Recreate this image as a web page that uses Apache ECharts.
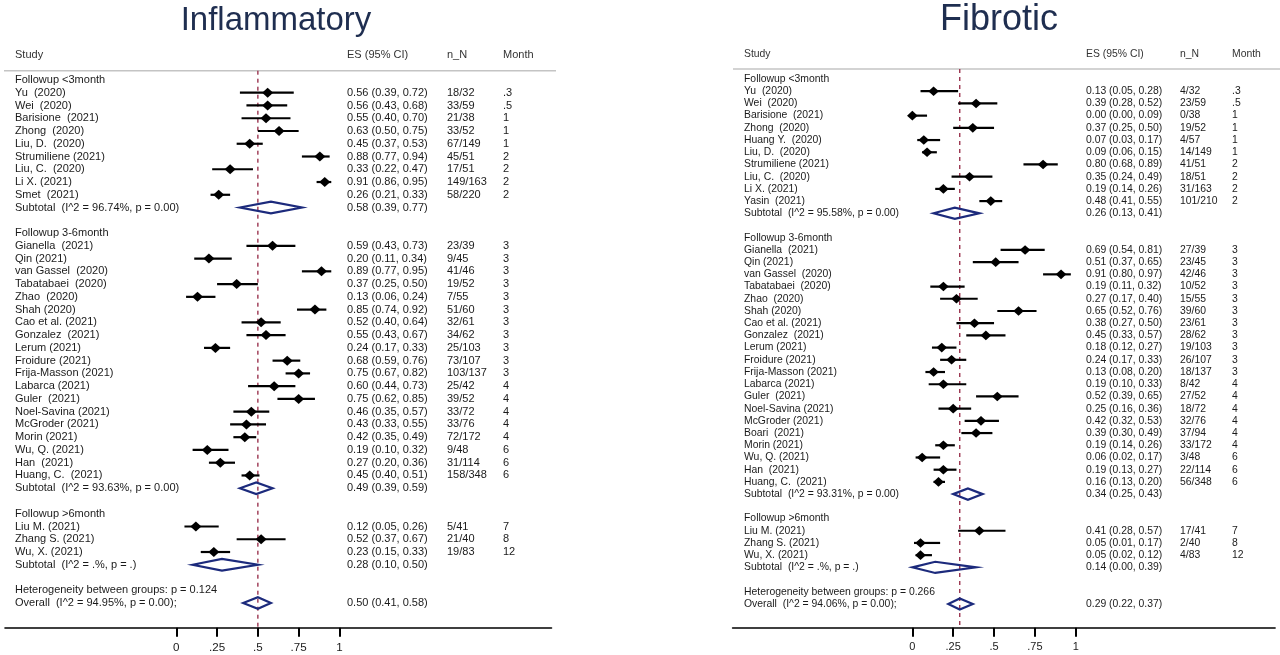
<!DOCTYPE html>
<html><head><meta charset="utf-8">
<script src="https://cdn.jsdelivr.net/npm/echarts@6/dist/echarts.min.js"></script>
<style>html,body{margin:0;padding:0;background:#fff}#c{width:1280px;height:655px}</style>
</head><body><div id="c"></div>
<script>
// ---------- shared labels ----------
const panelTitles = ['Inflammatory', 'Fibrotic'];
const headerLabels = ['Study', 'ES (95% CI)', 'n_N', 'Month'];
const groupLabels = ['Followup <3month', 'Followup 3-6month', 'Followup >6month'];
const tickValues = [0, 0.25, 0.5, 0.75, 1];
const tickLabels = ['0', '.25', '.5', '.75', '1'];

// ---------- Inflammatory ----------
const inflStudies = ['Yu  (2020)', 'Wei  (2020)', 'Barisione  (2021)', 'Zhong  (2020)', 'Liu, D.  (2020)', 'Strumiliene (2021)', 'Liu, C.  (2020)', 'Li X. (2021)', 'Smet  (2021)',
  'Gianella  (2021)', 'Qin (2021)', 'van Gassel  (2020)', 'Tabatabaei  (2020)', 'Zhao  (2020)', 'Shah (2020)', 'Cao et al. (2021)', 'Gonzalez  (2021)', 'Lerum (2021)', 'Froidure (2021)', 'Frija-Masson (2021)', 'Labarca (2021)', 'Guler  (2021)', 'Noel-Savina (2021)', 'McGroder (2021)', 'Morin (2021)', 'Wu, Q. (2021)', 'Han  (2021)', 'Huang, C.  (2021)',
  'Liu M. (2021)', 'Zhang S. (2021)', 'Wu, X. (2021)'];
const inflGroup = [0,0,0,0,0,0,0,0,0, 1,1,1,1,1,1,1,1,1,1,1,1,1,1,1,1,1,1,1, 2,2,2];
const inflES = [0.56,0.56,0.55,0.63,0.45,0.88,0.33,0.91,0.26, 0.59,0.20,0.89,0.37,0.13,0.85,0.52,0.55,0.24,0.68,0.75,0.60,0.75,0.46,0.43,0.42,0.19,0.27,0.45, 0.12,0.52,0.23];
const inflLo = [0.39,0.43,0.40,0.50,0.37,0.77,0.22,0.86,0.21, 0.43,0.11,0.77,0.25,0.06,0.74,0.40,0.43,0.17,0.59,0.67,0.44,0.62,0.35,0.33,0.35,0.10,0.20,0.40, 0.05,0.37,0.15];
const inflHi = [0.72,0.68,0.70,0.75,0.53,0.94,0.47,0.95,0.33, 0.73,0.34,0.95,0.50,0.24,0.92,0.64,0.67,0.33,0.76,0.82,0.73,0.85,0.57,0.55,0.49,0.32,0.36,0.51, 0.26,0.67,0.33];
const inflNN = ['18/32','33/59','21/38','33/52','67/149','45/51','17/51','149/163','58/220', '23/39','9/45','41/46','19/52','7/55','51/60','32/61','34/62','25/103','73/107','103/137','25/42','39/52','33/72','33/76','72/172','9/48','31/114','158/348', '5/41','21/40','19/83'];
const inflMonth = ['.3','.5','1','1','1','2','2','2','2', '3','3','3','3','3','3','3','3','3','3','3','4','4','4','4','4','6','6','6', '7','8','12'];
const inflSubES = [0.58, 0.49, 0.28];
const inflSubLo = [0.39, 0.39, 0.10];
const inflSubHi = [0.77, 0.59, 0.50];
const inflSubStat = ['I^2 = 96.74%, p = 0.00', 'I^2 = 93.63%, p = 0.00', 'I^2 = .%, p = .'];
const inflHetP = '0.124';
const inflOverall = [0.50, 0.41, 0.58];
const inflOverallStat = 'I^2 = 94.95%, p = 0.00';

// ---------- Fibrotic ----------
const fibStudies = ['Yu  (2020)', 'Wei  (2020)', 'Barisione  (2021)', 'Zhong  (2020)', 'Huang Y.  (2020)', 'Liu, D.  (2020)', 'Strumiliene (2021)', 'Liu, C.  (2020)', 'Li X. (2021)', 'Yasin  (2021)',
  'Gianella  (2021)', 'Qin (2021)', 'van Gassel  (2020)', 'Tabatabaei  (2020)', 'Zhao  (2020)', 'Shah (2020)', 'Cao et al. (2021)', 'Gonzalez  (2021)', 'Lerum (2021)', 'Froidure (2021)', 'Frija-Masson (2021)', 'Labarca (2021)', 'Guler  (2021)', 'Noel-Savina (2021)', 'McGroder (2021)', 'Boari  (2021)', 'Morin (2021)', 'Wu, Q. (2021)', 'Han  (2021)', 'Huang, C.  (2021)',
  'Liu M. (2021)', 'Zhang S. (2021)', 'Wu, X. (2021)'];
const fibGroup = [0,0,0,0,0,0,0,0,0,0, 1,1,1,1,1,1,1,1,1,1,1,1,1,1,1,1,1,1,1,1, 2,2,2];
const fibES = [0.13,0.39,0.00,0.37,0.07,0.09,0.80,0.35,0.19,0.48, 0.69,0.51,0.91,0.19,0.27,0.65,0.38,0.45,0.18,0.24,0.13,0.19,0.52,0.25,0.42,0.39,0.19,0.06,0.19,0.16, 0.41,0.05,0.05];
const fibLo = [0.05,0.28,0.00,0.25,0.03,0.06,0.68,0.24,0.14,0.41, 0.54,0.37,0.80,0.11,0.17,0.52,0.27,0.33,0.12,0.17,0.08,0.10,0.39,0.16,0.32,0.30,0.14,0.02,0.13,0.13, 0.28,0.01,0.02];
const fibHi = [0.28,0.52,0.09,0.50,0.17,0.15,0.89,0.49,0.26,0.55, 0.81,0.65,0.97,0.32,0.40,0.76,0.50,0.57,0.27,0.33,0.20,0.33,0.65,0.36,0.53,0.49,0.26,0.17,0.27,0.20, 0.57,0.17,0.12];
const fibNN = ['4/32','23/59','0/38','19/52','4/57','14/149','41/51','18/51','31/163','101/210', '27/39','23/45','42/46','10/52','15/55','39/60','23/61','28/62','19/103','26/107','18/137','8/42','27/52','18/72','32/76','37/94','33/172','3/48','22/114','56/348', '17/41','2/40','4/83'];
const fibMonth = ['.3','.5','1','1','1','1','2','2','2','2', '3','3','3','3','3','3','3','3','3','3','3','4','4','4','4','4','4','6','6','6', '7','8','12'];
const fibSubES = [0.26, 0.34, 0.14];
const fibSubLo = [0.13, 0.25, 0.00];
const fibSubHi = [0.41, 0.43, 0.39];
const fibSubStat = ['I^2 = 95.58%, p = 0.00', 'I^2 = 93.31%, p = 0.00', 'I^2 = .%, p = .'];
const fibHetP = '0.266';
const fibOverall = [0.29, 0.22, 0.37];
const fibOverallStat = 'I^2 = 94.06%, p = 0.00';

// ---------- build ----------
const FONT_FAMILY = "'Liberation Sans', Arial, sans-serif";
const NAVY = '#1c2a7c';
const REF = '#9b3550';
const TEXT = '#1a1a1a';

function buildRows(p) {
  const rows = [];
  groupLabels.forEach((gl, g) => {
    rows.push({ kind: 'group', text: gl });
    p.names.forEach((n, i) => {
      if (p.grp[i] === g) rows.push({ kind: 'study', text: n, es: p.es[i], lo: p.lo[i], hi: p.hi[i], nn: p.nn[i], mon: p.mon[i] });
    });
    rows.push({ kind: 'sub', text: 'Subtotal  (' + p.subStat[g] + ')', es: p.subES[g], lo: p.subLo[g], hi: p.subHi[g] });
    rows.push({ kind: 'blank' });
  });
  rows.push({ kind: 'het', text: 'Heterogeneity between groups: p = ' + p.het });
  rows.push({ kind: 'overall', text: 'Overall  (' + p.ovStat + ');', es: p.ov[0], lo: p.ov[1], hi: p.ov[2] });
  return rows;
}

const fmt = (e, l, h) => e.toFixed(2) + ' (' + l.toFixed(2) + ', ' + h.toFixed(2) + ')';

const panels = [
  {
    rows: buildRows({ names: inflStudies, grp: inflGroup, es: inflES, lo: inflLo, hi: inflHi, nn: inflNN, mon: inflMonth,
      subES: inflSubES, subLo: inflSubLo, subHi: inflSubHi, subStat: inflSubStat, het: inflHetP, ov: inflOverall, ovStat: inflOverallStat }),
    ov: inflOverall,
    L: { font: '11px ' + FONT_FAMILY, fs: 11, cols: [15, 347, 447, 503], headY: 55, headLineY: 70.7, lineX: [4, 556],
      grid: { left: 5, top: 67.2, width: 546.5, height: 548.6 }, xMin: -1.05, xMax: 2.3, yMax: 42, axisOffset: 12,
      titleX: 276, titleY: 21, titleSize: 33, mw: 5.5, mh: 5, dh: 5.8 }
  },
  {
    rows: buildRows({ names: fibStudies, grp: fibGroup, es: fibES, lo: fibLo, hi: fibHi, nn: fibNN, mon: fibMonth,
      subES: fibSubES, subLo: fibSubLo, subHi: fibSubHi, subStat: fibSubStat, het: fibHetP, ov: fibOverall, ovStat: fibOverallStat }),
    ov: fibOverall,
    L: { font: '10.4px ' + FONT_FAMILY, fs: 10.4, cols: [744, 1086, 1180, 1232], headY: 54, headLineY: 69, lineX: [733, 1280],
      grid: { left: 732.6, top: 66.8, width: 542.5, height: 549.4 }, xMin: -1.1, xMax: 2.22, yMax: 44, axisOffset: 11.5,
      titleX: 999, titleY: 20, titleSize: 36, mw: 5.3, mh: 4.8, dh: 5.6 }
  }
];

function makeRender(rows, L) {
  return function (params, api) {
    const r = rows[params.dataIndex];
    const y = api.coord([0, api.value(0)])[1];
    const ch = [];
    const txt = (s, x) => ({ type: 'text', style: { text: s, x: x, y: y, fill: TEXT, font: L.font, align: 'left', verticalAlign: 'middle' } });
    if (r.text) ch.push(txt(r.text, L.cols[0]));
    if (r.kind === 'study' || r.kind === 'sub' || r.kind === 'overall') {
      const xe = api.coord([api.value(1), 0])[0];
      const xl = api.coord([api.value(2), 0])[0];
      const xh = api.coord([api.value(3), 0])[0];
      if (r.kind === 'study') {
        ch.push({ type: 'line', shape: { x1: xl, y1: y, x2: xh, y2: y }, style: { stroke: '#000', lineWidth: 2.2 } });
        ch.push({ type: 'polygon', shape: { points: [[xe - L.mw, y], [xe, y - L.mh], [xe + L.mw, y], [xe, y + L.mh]] }, style: { fill: '#000' } });
      } else {
        ch.push({ type: 'polygon', shape: { points: [[xl, y], [xe, y - L.dh], [xh, y], [xe, y + L.dh]] }, style: { fill: 'none', stroke: NAVY, lineWidth: 2.2 } });
      }
      ch.push(txt(fmt(api.value(1), api.value(2), api.value(3)), L.cols[1]));
      if (r.kind === 'study') {
        ch.push(txt(r.nn, L.cols[2]));
        ch.push(txt(r.mon, L.cols[3]));
      }
    }
    return { type: 'group', children: ch };
  };
}

function makeRefRender(L) {
  return function (params, api) {
    const x = api.coord([api.value(0), 0])[0];
    const cs = params.coordSys;
    return { type: 'line', shape: { x1: x, y1: L.headLineY, x2: x, y2: cs.y + cs.height + L.axisOffset },
      style: { stroke: REF, lineWidth: 1.4, lineDash: [4, 4] } };
  };
}

const grids = [], xAxes = [], yAxes = [], series = [], graphics = [];
panels.forEach((P, k) => {
  const L = P.L;
  grids.push(Object.assign({ containLabel: false }, L.grid));
  xAxes.push({
    gridIndex: k, type: 'value', min: L.xMin, max: L.xMax, position: 'bottom', offset: L.axisOffset,
    axisLine: { show: true, onZero: false, lineStyle: { color: '#000', width: 1.6 } },
    axisTick: { show: true, customValues: tickValues, length: 9, lineStyle: { color: '#000', width: 2 } },
    axisLabel: { show: true, customValues: tickValues, margin: 14, fontSize: L.fs + 0.6, color: TEXT, fontFamily: FONT_FAMILY,
      formatter: v => { const i = tickValues.findIndex(t => Math.abs(t - v) < 1e-9); return i >= 0 ? tickLabels[i] : ''; } },
    splitLine: { show: false }
  });
  yAxes.push({ gridIndex: k, type: 'value', min: -1, max: L.yMax, inverse: true, show: false });
  series.push({
    type: 'custom', xAxisIndex: k, yAxisIndex: k, clip: false, z: 2,
    renderItem: makeRefRender(L),
    encode: { x: 0, y: 1 },
    data: [[P.ov[0], 0]]
  });
  series.push({
    type: 'custom', xAxisIndex: k, yAxisIndex: k, clip: false, z: 3,
    renderItem: makeRender(P.rows, L),
    encode: { x: [1, 2, 3], y: 0 },
    data: P.rows.map((r, i) => [i, r.es != null ? r.es : 0, r.lo != null ? r.lo : 0, r.hi != null ? r.hi : 0])
  });
  graphics.push({ type: 'text', style: { text: panelTitles[k], x: L.titleX, y: L.titleY, fill: '#1f2e50', font: L.titleSize + 'px ' + FONT_FAMILY, align: 'center', verticalAlign: 'middle' } });
  headerLabels.forEach((h, j) => {
    graphics.push({ type: 'text', style: { text: h, x: L.cols[j], y: L.headY, fill: '#333', font: L.font, align: 'left', verticalAlign: 'middle' } });
  });
  graphics.push({ type: 'line', shape: { x1: L.lineX[0], y1: L.headLineY, x2: L.lineX[1], y2: L.headLineY }, style: { stroke: '#c4c4c4', lineWidth: 1.6 } });
});

const chart = echarts.init(document.getElementById('c'), null, { renderer: 'canvas' });
chart.setOption({
  animation: false,
  backgroundColor: '#fff',
  grid: grids, xAxis: xAxes, yAxis: yAxes, series: series, graphic: graphics
});
</script>
</body></html>
